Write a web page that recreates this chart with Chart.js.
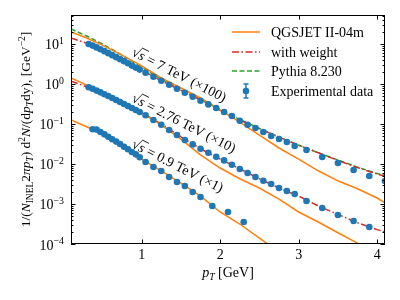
<!DOCTYPE html>
<html>
<head>
<meta charset="utf-8">
<script src="https://cdn.jsdelivr.net/npm/chart.js@4.4.1/dist/chart.umd.min.js"></script>
<style>
  html, body { margin: 0; padding: 0; background: #fff; }
  #wrap { width: 400px; height: 300px; }
</style>
</head>
<body>
<div id="wrap"><canvas id="chart" width="400" height="300"></canvas></div>
<script>
// measured points, pT in GeV
const pt7 = [0.325, 0.375, 0.425, 0.475, 0.525, 0.575, 0.625, 0.675, 0.725, 0.775, 0.825, 0.875, 0.925, 0.975,
  1.05, 1.15, 1.25, 1.35, 1.45, 1.55, 1.65, 1.75, 1.85, 1.95, 2.05, 2.15, 2.25, 2.35, 2.45, 2.55, 2.65, 2.75, 2.85, 2.95,
  3.1, 3.3, 3.5, 3.7, 3.9, 4.1];
const data7 = [10.0, 9.12, 8.22, 7.41, 6.61, 5.89, 5.25, 4.68, 4.17, 3.72, 3.31, 2.88, 2.57, 2.29,
  1.91, 1.51, 1.20, 0.955, 0.759, 0.603, 0.479, 0.380, 0.309, 0.251, 0.200, 0.158, 0.120, 0.0955, 0.0794, 0.0631, 0.0501, 0.0422, 0.0355, 0.0282,
  0.0224, 0.0150, 0.0106, 0.00708, 0.00501, 0.00376];

const pt276 = [0.325, 0.375, 0.425, 0.475, 0.525, 0.575, 0.625, 0.675, 0.725, 0.775, 0.825, 0.875, 0.925, 0.975,
  1.05, 1.15, 1.25, 1.35, 1.45, 1.55, 1.65, 1.75, 1.85, 1.95, 2.05, 2.15, 2.25, 2.35, 2.45, 2.55, 2.65, 2.75, 2.85, 2.95,
  3.1, 3.3, 3.5, 3.7, 3.9];
const data276 = [0.832, 0.759, 0.684, 0.617, 0.556, 0.501, 0.447, 0.398, 0.355, 0.316, 0.282, 0.251, 0.224, 0.200,
  0.166, 0.126, 0.0955, 0.0708, 0.0531, 0.0398, 0.0309, 0.0240, 0.0191, 0.0151, 0.0123, 0.00955, 0.00750, 0.00596, 0.00473, 0.00380, 0.00316, 0.00251, 0.00211, 0.00178,
  0.00119, 0.000794, 0.000531, 0.000376, 0.000266];

const pt09 = [0.375, 0.425, 0.475, 0.525, 0.575, 0.625, 0.675, 0.725, 0.775, 0.825, 0.875, 0.925, 0.975,
  1.05, 1.15, 1.25, 1.35, 1.45, 1.55, 1.65, 1.75, 1.9, 2.1, 2.3];
const data09 = [0.0741, 0.0724, 0.0631, 0.0550, 0.0479, 0.0417, 0.0363, 0.0316, 0.0269, 0.0234, 0.0200, 0.0174, 0.0148,
  0.0112, 0.00841, 0.00668, 0.00473, 0.00355, 0.00282, 0.00200, 0.00150, 0.000891, 0.000631, 0.000355];

// model curves
const ptModel = [0.1, 0.3, 0.5, 0.75, 1.0, 1.25, 1.5, 1.75, 2.0, 2.25, 2.5, 2.75, 3.0, 3.25, 3.5, 3.75, 4.0, 4.1];
const qgs7 = [20.0, 14.1, 9.33, 5.25, 2.82, 1.41, 0.794, 0.447, 0.224, 0.112, 0.0525, 0.0251, 0.0132, 0.00676, 0.00380, 0.00240, 0.00141, 0.00107];
const weight7 = [14.1, 10.5, 7.08, 3.98, 2.24, 1.20, 0.692, 0.398, 0.219, 0.126, 0.0759, 0.0468, 0.0295, 0.0191, 0.0123, 0.00813, 0.00562, 0.00490];
const pythia7 = [23.7, 15.8, 10.0, 5.25, 2.63, 1.32, 0.759, 0.417, 0.229, 0.129, 0.0776, 0.0468, 0.0295, 0.0191, 0.0126, 0.00832, 0.00575, 0.00525];
const qgs276 = [1.41, 0.933, 0.603, 0.339, 0.191, 0.0955, 0.0417, 0.0170, 0.00794, 0.00427, 0.00251, 0.00132, 0.000631, 0.000355, 0.000191, 0.000105, 0.0000603, 0.0000501];
const weight276 = [1.17, 0.851, 0.562, 0.339, 0.191, 0.100, 0.0479, 0.0240, 0.0132, 0.00759, 0.00427, 0.00251, 0.00158, 0.000891, 0.000550, 0.000339, 0.000229, 0.000200];
const qgs09 = [0.126, 0.0851, 0.0562, 0.0282, 0.0132, 0.00676, 0.00331, 0.00158, 0.000631, 0.000316, 0.000141, 0.0000631];

const xTicks = [1, 2, 3, 4];
const yTickExps = [1, 0, -1, -2, -3, -4];
const legendLabels = ['QGSJET II-04m', 'with weight', 'Pythia 8.230', 'Experimental data'];
const energyLabels = [
  { text: '7 TeV (×100)', x: 0.86, y: 5.3 },
  { text: '2.76 TeV (×10)', x: 0.86, y: 0.376 },
  { text: '0.9 TeV (×1)', x: 0.86, y: 0.0266 }
];

const BLUE = '#1f77b4', ORANGE = '#ff7f0e', GREEN = '#2ca02c', RED = '#d62728';
const SERIF = '"Liberation Serif", "DejaVu Serif", serif';
const DASHED = [5, 2.5];
const DASHDOT = [7, 2.5, 1.5, 2.5];

const pts = (xs, ys) => ys.map((y, i) => ({ x: xs[i], y }));

function fontFor(kind, size) {
  const small = kind === 'sb' || kind === 'si' || kind === 'sp';
  const italic = kind === 'i' || kind === 'si';
  return (italic ? 'italic ' : '') + (small ? size * 0.7 : size) + 'px ' + SERIF;
}

// draws text made of normal / italic / sub / sup pieces
function drawRich(ctx, parts, x, y, size, align) {
  let w = 0;
  const widths = parts.map(([t, k]) => {
    ctx.font = fontFor(k, size);
    const m = ctx.measureText(t).width;
    w += m;
    return m;
  });
  let cx = align === 'right' ? x - w : align === 'center' ? x - w / 2 : x;
  ctx.textAlign = 'left';
  ctx.textBaseline = 'alphabetic';
  parts.forEach(([t, k], i) => {
    ctx.font = fontFor(k, size);
    let dy = 0;
    if (k === 'sb' || k === 'si') dy = size * 0.22;
    if (k === 'sp') dy = -size * 0.4;
    ctx.fillText(t, cx, y + dy);
    cx += widths[i];
  });
  return w;
}

const decorations = {
  id: 'decorations',
  afterDraw(chart) {
    const { ctx, chartArea: a, scales: { x, y } } = chart;
    ctx.save();
    ctx.fillStyle = '#000';
    ctx.strokeStyle = '#000';
    ctx.lineWidth = 1;

    // frame
    ctx.strokeRect(a.left + 0.5, a.top + 0.5, a.right - a.left - 1, a.bottom - a.top - 1);

    // inward ticks
    ctx.beginPath();
    xTicks.forEach(v => {
      const px = Math.round(x.getPixelForValue(v)) + 0.5;
      ctx.moveTo(px, a.bottom); ctx.lineTo(px, a.bottom - 4.5);
      ctx.moveTo(px, a.top); ctx.lineTo(px, a.top + 4.5);
    });
    yTickExps.forEach(e => {
      const py = Math.round(y.getPixelForValue(Math.pow(10, e))) + 0.5;
      ctx.moveTo(a.left, py); ctx.lineTo(a.left + 4.5, py);
      ctx.moveTo(a.right, py); ctx.lineTo(a.right - 4.5, py);
      for (let m = 2; m <= 9; m++) {
        const v = m * Math.pow(10, e);
        if (v > y.max || v < y.min) continue;
        const pm = Math.round(y.getPixelForValue(v)) + 0.5;
        ctx.moveTo(a.left, pm); ctx.lineTo(a.left + 2.5, pm);
        ctx.moveTo(a.right, pm); ctx.lineTo(a.right - 2.5, pm);
      }
    });
    ctx.stroke();

    // y tick labels 10^n
    yTickExps.forEach(e => {
      const py = y.getPixelForValue(Math.pow(10, e));
      const exp = e < 0 ? '\u2212' + (-e) : String(e);
      drawRich(ctx, [['10', 'n'], [exp, 'sp']], a.left - 7, py + 5.5, 14, 'right');
    });

    // axis titles
    drawRich(ctx, [['p', 'i'], ['T', 'si'], [' [GeV]', 'n']], (a.left + a.right) / 2, 277, 14, 'center');
    ctx.save();
    ctx.translate(30, (a.top + a.bottom) / 2);
    ctx.rotate(-Math.PI / 2);
    drawRich(ctx, [['1/(', 'n'], ['N', 'i'], ['INEL', 'sb'], ['2', 'n'], ['\u03c0', 'i'], ['p', 'i'], ['T', 'si'], [')', 'n'],
      [' d', 'n'], ['2', 'sp'], ['N', 'i'], ['/(d', 'n'], ['p', 'i'], ['T', 'si'], ['dy), [GeV', 'n'], ['\u22122', 'sp'], [']', 'n']],
      0, 0, 13.5, 'center');
    ctx.restore();

    // energy labels along the spectra
    energyLabels.forEach(l => {
      const px = x.getPixelForValue(l.x), py = y.getPixelForValue(l.y);
      ctx.save();
      ctx.translate(px, py);
      ctx.rotate(27 * Math.PI / 180);
      ctx.textAlign = 'left';
      ctx.textBaseline = 'alphabetic';
      ctx.font = '14px ' + SERIF;
      const wr = ctx.measureText('\u221a').width;
      ctx.fillText('\u221a', 0, 0);
      ctx.font = 'italic 14px ' + SERIF;
      const ws = ctx.measureText('s').width;
      ctx.fillText('s', wr, 0);
      ctx.beginPath();
      ctx.moveTo(wr - 0.5, -11.5);
      ctx.lineTo(wr + ws + 1.5, -11.5);
      ctx.lineWidth = 0.8;
      ctx.stroke();
      ctx.font = '14px ' + SERIF;
      ctx.fillText(' = ' + l.text, wr + ws, 0);
      ctx.restore();
    });

    // legend
    const lx0 = 232, lx1 = 260, tx = 271;
    const rows = [32, 52, 71, 91];
    const styles = [
      { color: ORANGE, dash: [] },
      { color: RED, dash: DASHDOT },
      { color: GREEN, dash: DASHED }
    ];
    styles.forEach((s, i) => {
      ctx.beginPath();
      ctx.setLineDash(s.dash);
      ctx.strokeStyle = s.color;
      ctx.lineWidth = 1.5;
      ctx.moveTo(lx0, rows[i]);
      ctx.lineTo(lx1, rows[i]);
      ctx.stroke();
    });
    ctx.setLineDash([]);
    const mx = (lx0 + lx1) / 2, my = rows[3];
    ctx.strokeStyle = BLUE;
    ctx.lineWidth = 1.5;
    ctx.beginPath();
    ctx.moveTo(mx, my - 7); ctx.lineTo(mx, my + 7);
    ctx.moveTo(mx - 2.5, my - 7); ctx.lineTo(mx + 2.5, my - 7);
    ctx.moveTo(mx - 2.5, my + 7); ctx.lineTo(mx + 2.5, my + 7);
    ctx.stroke();
    ctx.fillStyle = BLUE;
    ctx.beginPath();
    ctx.arc(mx, my, 3.3, 0, Math.PI * 2);
    ctx.fill();
    ctx.fillStyle = '#000';
    ctx.font = '14px ' + SERIF;
    ctx.textAlign = 'left';
    ctx.textBaseline = 'middle';
    legendLabels.forEach((t, i) => ctx.fillText(t, tx, rows[i] + 1));

    ctx.restore();
  }
};

const dataSet = (label, xs, ys) => ({
  label, data: pts(xs, ys), showLine: false, pointRadius: 3.3, pointHoverRadius: 3.3,
  pointBackgroundColor: BLUE, pointBorderWidth: 0, order: 0
});
const modelSet = (label, xs, ys, color, dash) => ({
  label, data: pts(xs, ys), showLine: true, borderColor: color, borderWidth: 1.5,
  borderDash: dash, pointRadius: 0, tension: 0, fill: false, order: 1
});

new Chart(document.getElementById('chart'), {
  type: 'line',
  data: {
    datasets: [
      dataSet('7 TeV', pt7, data7),
      dataSet('2.76 TeV', pt276, data276),
      dataSet('0.9 TeV', pt09, data09),
      modelSet('QGSJET 7', ptModel, qgs7, ORANGE, []),
      modelSet('QGSJET 2.76', ptModel, qgs276, ORANGE, []),
      modelSet('QGSJET 0.9', ptModel, qgs09, ORANGE, []),
      modelSet('with weight 7', ptModel, weight7, RED, DASHDOT),
      modelSet('with weight 2.76', ptModel, weight276, RED, DASHDOT),
      modelSet('Pythia 7', ptModel, pythia7, GREEN, DASHED)
    ]
  },
  options: {
    responsive: false,
    animation: false,
    devicePixelRatio: 1,
    layout: { padding: { top: 15, right: 15, left: 0, bottom: 0 } },
    plugins: { legend: { display: false }, tooltip: { enabled: false } },
    scales: {
      x: {
        type: 'linear',
        min: 0.1,
        max: 4.1,
        afterBuildTicks: s => { s.ticks = xTicks.map(v => ({ value: v })); },
        afterFit: s => { s.height = 56; },
        grid: { display: false, drawTicks: false },
        border: { display: false },
        ticks: { color: '#000', font: { family: SERIF, size: 14 }, padding: 3, maxRotation: 0, autoSkip: false,
          callback: v => String(v) }
      },
      y: {
        type: 'logarithmic',
        min: 1e-4,
        max: 53,
        afterBuildTicks: s => { s.ticks = yTickExps.map(e => ({ value: Math.pow(10, e) })); },
        afterFit: s => { s.width = 71; },
        grid: { display: false, drawTicks: false },
        border: { display: false },
        ticks: { display: false }
      }
    }
  },
  plugins: [decorations]
});
</script>
</body>
</html>
